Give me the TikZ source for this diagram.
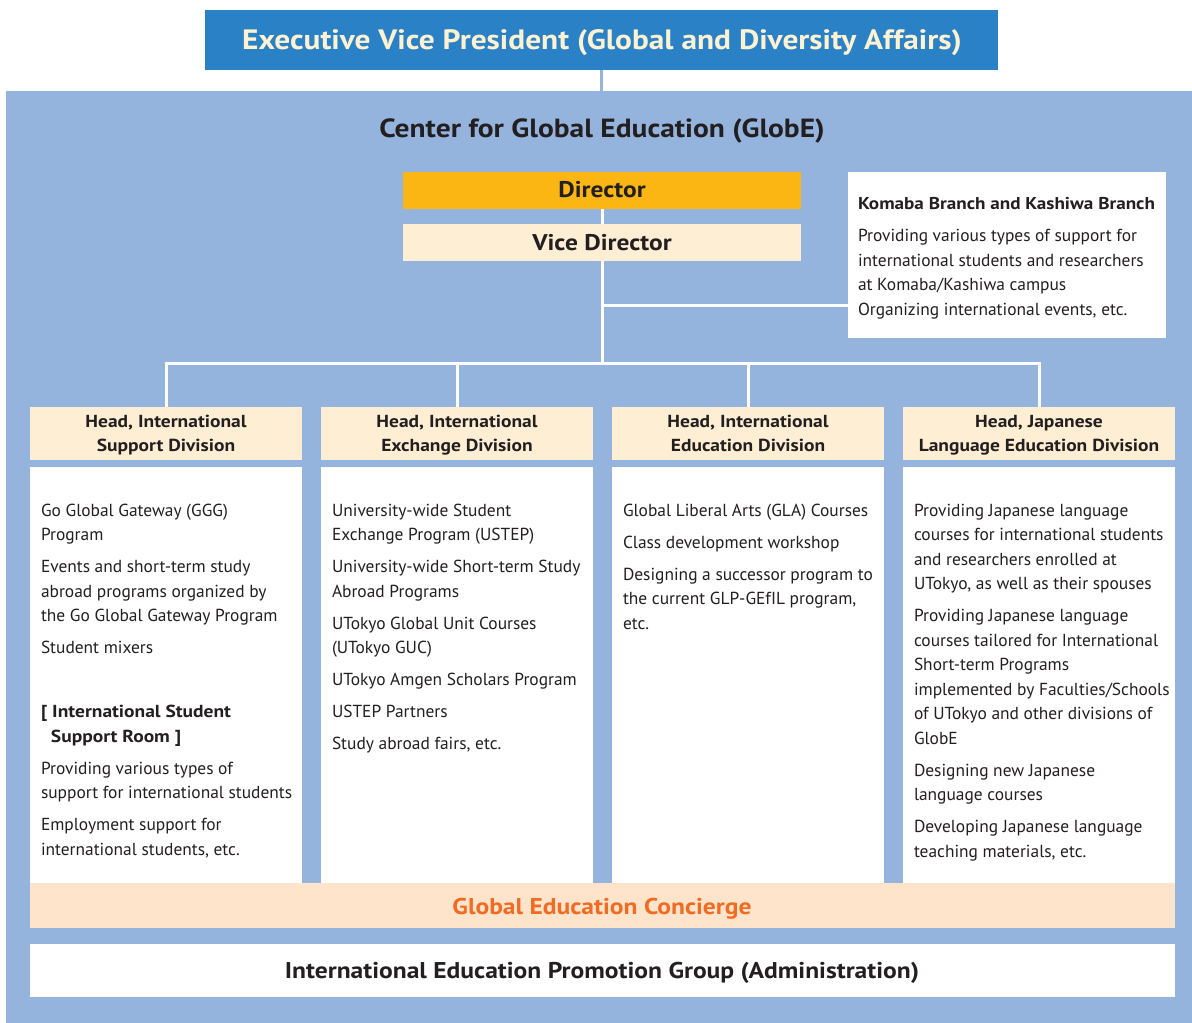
\documentclass[tikz,border=0pt]{standalone}
\usepackage{fontspec}
\setmainfont{PT Sans}[BoldFeatures={FakeStretch=1.12}]
\definecolor{evpblue}{HTML}{2A81C5}
\definecolor{evptext}{HTML}{FFF2D3}
\definecolor{areablue}{HTML}{95B4DD}
\definecolor{dirfill}{HTML}{FBB614}
\definecolor{cream}{HTML}{FEEFD4}
\definecolor{peach}{HTML}{FEE4CA}
\definecolor{conc}{HTML}{F26B24}
\definecolor{txt}{HTML}{231F20}
\newcommand{\bodyfont}{\fontsize{17.4}{24.5}\selectfont}
\newcommand{\headfont}{\fontsize{17.4}{24.3}\selectfont\bfseries}
\newcommand{\pgap}{\\[7.5pt]}
\begin{document}
\begin{tikzpicture}[x=1pt,y=-1pt,
  every node/.style={inner sep=0pt,outer sep=0pt},
  hdr/.style={fill=cream,minimum width=272,minimum height=53},
  hdrtext/.style={font=\headfont,align=center,text=txt},
  bodybox/.style={fill=white,minimum width=272,minimum height=416},
  bodytext/.style={font=\bodyfont,align=left,text=txt,anchor=north west},
  conn/.style={draw=white,line width=3pt},
  bigtext/.style={font=\fontsize{22.8}{26}\selectfont\bfseries,text=txt}]
\useasboundingbox (0,0) rectangle (1192,1023);
% top box
\node[fill=evpblue,minimum width=793,minimum height=60] (evp) at (601.5,40) {};
\node[text=evptext,font=\fontsize{28}{30}\selectfont\bfseries] (evpt) at (602,42.5) {Executive Vice President (Global and Diversity Affairs)};
% big area
\node[fill=areablue,minimum width=1186,minimum height=932] (area) at (599,557) {};
\draw[draw=areablue,line width=3pt] (evp.south) -- (evp.south |- area.north);
\node[font=\fontsize{26.3}{28}\selectfont\bfseries,text=txt] (globe) at (602,131.5) {Center for Global Education (GlobE)};
% director
\node[fill=dirfill,minimum width=398,minimum height=37] (dir) at (602,190.5) {};
\node[font=\fontsize{22.7}{24}\selectfont\bfseries,text=txt] (dirt) at (602,190) {Director};
\node[fill=cream,minimum width=398,minimum height=37] (vice) at (602,242.5) {};
\node[font=\fontsize{22.7}{24}\selectfont\bfseries,text=txt] (vicet) at (602,243) {Vice Director};
% komaba
\node[fill=white,minimum width=318,minimum height=166] (kom) at (1007,255) {};
\node[bodytext] (komt) at (858,197.5) {{\bfseries\fontsize{17.1}{24.5}\selectfont Komaba Branch and Kashiwa Branch}\pgap
Providing various types of support for\\
international students and researchers\\
at Komaba/Kashiwa campus\\
Organizing international events, etc.};
% headers
\node[hdr] (h1) at (166,433.5) {};
\node[hdr] (h2) at (457,433.5) {};
\node[hdr] (h3) at (748,433.5) {};
\node[hdr] (h4) at (1039,433.5) {};
\node[hdrtext] (h1t) at (166,434.6) {\strut Head, International\\Support Division\strut};
\node[hdrtext] (h2t) at (457,434.6) {\strut Head, International\\Exchange Division\strut};
\node[hdrtext] (h3t) at (748,434.6) {\strut Head, International\\Education Division\strut};
\node[hdrtext] (h4t) at (1039,434.6) {\strut Head, Japanese\\Language Education Division\strut};
% bodies
\node[bodybox] (b1) at (166,675) {};
\node[bodybox] (b2) at (457,675) {};
\node[bodybox] (b3) at (748,675) {};
\node[bodybox] (b4) at (1039,675) {};
\node[bodytext] (t1) at (41,504) {Go Global Gateway (GGG)\\Program\pgap
Events and short-term study\\abroad programs organized by\\the Go Global Gateway Program\pgap
Student mixers\pgap
\mbox{}\pgap
{\bfseries [ International Student}\\
\hspace*{10pt}{\bfseries Support Room ]}\pgap
Providing various types of\\support for international students\pgap
Employment support for\\international students, etc.};
\node[bodytext] (t2) at (332,504) {University-wide Student\\Exchange Program (USTEP)\pgap
University-wide Short-term Study\\Abroad Programs\pgap
UTokyo Global Unit Courses\\(UTokyo GUC)\pgap
UTokyo Amgen Scholars Program\pgap
USTEP Partners\pgap
Study abroad fairs, etc.};
\node[bodytext] (t3) at (623,504) {Global Liberal Arts (GLA) Courses\pgap
Class development workshop\pgap
Designing a successor program to\\the current GLP-GEfIL program,\\etc.};
\node[bodytext] (t4) at (914,504) {Providing Japanese language\\courses for international students\\and researchers enrolled at\\UTokyo, as well as their spouses\pgap
Providing Japanese language\\courses tailored for International\\Short-term Programs\\implemented by Faculties/Schools\\of UTokyo and other divisions of\\GlobE\pgap
Designing new Japanese\\language courses\pgap
Developing Japanese language\\teaching materials, etc.};
% concierge and admin
\node[fill=peach,minimum width=1145,minimum height=45] (con) at (602.5,905.5) {};
\node[font=\fontsize{22.8}{26}\selectfont\bfseries,text=conc] (cont) at (602,908.5) {Global Education Concierge};
\node[fill=white,minimum width=1145,minimum height=53] (adm) at (602.5,970.5) {};
\node[bigtext] (admt) at (602,972.5) {International Education Promotion Group (Administration)};
% connectors
\coordinate (bar) at (602,363);
\coordinate (kj) at (602,305);
\draw[conn] (dir.south) -- (vice.north);
\draw[conn] (vice.south) -- (bar);
\draw[conn] (kj) -- (kj -| kom.west);
\draw[conn] (h1.north) |- (bar) -| (h4.north);
\draw[conn] (h2.north) -- (h2.north |- bar);
\draw[conn] (h3.north) -- (h3.north |- bar);
\end{tikzpicture}
\end{document}
